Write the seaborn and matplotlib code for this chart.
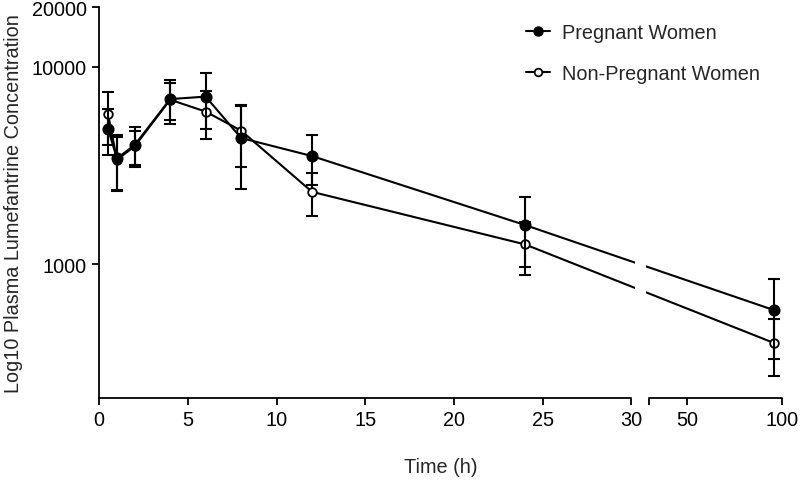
import numpy as np
import pandas as pd
import matplotlib
matplotlib.use("Agg")
import matplotlib.pyplot as plt
import matplotlib.transforms as mtransforms
from matplotlib.patches import Rectangle
import seaborn as sns

# Datos (media ± DE)
time_h = [0.5, 1, 2, 4, 6, 8, 12, 24, 96]
preg_mean = [4830, 3430, 4010, 6850, 7050, 4350, 3525, 1578, 584]
preg_sd = [1280, 1080, 920, 1740, 2240, 1950, 995, 610, 252]
nonpreg_mean = [5740, 3380, 3950, 6800, 5920, 4740, 2322, 1259, 398]
nonpreg_sd = [1720, 1000, 780, 1450, 1640, 1650, 563, 378, 128]
groups = ["Pregnant Women", "Non-Pregnant Women"]

x_ticks = [0, 5, 10, 15, 20, 25, 30, 30.0001, 50, 100]
x_labels = ["0", "5", "10", "15", "20", "25", "30", "", "50", "100"]
y_ticks = [1000, 10000, 20000]

# Eje x partido: 0-30 lineal, hueco, 30-100 comprimido
BREAK = 30.0
GAP = 1.0
SLOPE = 0.107


def fwd(x):
    x = np.asarray(x, dtype=float)
    return np.where(x <= BREAK, x, BREAK + GAP + (x - BREAK) * SLOPE)


def inv(u):
    u = np.asarray(u, dtype=float)
    return np.where(u <= BREAK, u,
                    np.where(u < BREAK + GAP, BREAK, BREAK + (u - BREAK - GAP) / SLOPE))


df = pd.concat([
    pd.DataFrame({"time": time_h, "conc": preg_mean, "sd": preg_sd, "group": groups[0]}),
    pd.DataFrame({"time": time_h, "conc": nonpreg_mean, "sd": nonpreg_sd, "group": groups[1]}),
])

sns.set_style("ticks")
plt.rcParams["font.family"] = ["Liberation Sans", "DejaVu Sans"]
FS = 14.3

fig = plt.figure(figsize=(8, 4.81), dpi=100)
ax = fig.add_axes([0.124, 0.1705, 0.8535, 0.8125])
ax.set_xscale("function", functions=(fwd, inv))
ax.set_yscale("log")

# primero las no embarazadas, las embarazadas (relleno) encima
face = {groups[0]: "black", groups[1]: "white"}
z = {groups[0]: 3, groups[1]: 2}
for g in [groups[1], groups[0]]:
    d = df[df["group"] == g]
    ax.errorbar(d["time"], d["conc"], yerr=d["sd"], fmt="none", ecolor="black",
                elinewidth=1.5, capsize=4.5, capthick=1.5, zorder=z[g])
    sns.lineplot(data=d, x="time", y="conc", ax=ax, color="black", lw=1.5,
                 marker="o", markersize=7.4 if g == groups[0] else 6.2,
                 markerfacecolor=face[g], markeredgecolor="black",
                 markeredgewidth=1.3, zorder=z[g] + 0.5, legend=False)

ax.set_xlim(0, 100)
ax.set_ylim(210, 20000)
ax.set_xticks(x_ticks)
ax.set_xticklabels(x_labels)
ax.set_yticks(y_ticks)
ax.set_yticklabels([str(t) for t in y_ticks])
ax.yaxis.set_minor_locator(matplotlib.ticker.NullLocator())
ax.xaxis.set_minor_locator(matplotlib.ticker.NullLocator())

ax.tick_params(direction="out", length=5, width=1.3, colors="black", labelsize=FS, pad=4)
for s in ["top", "right", "bottom"]:
    ax.spines[s].set_visible(False)
ax.spines["left"].set_linewidth(1.3)
ax.spines["left"].set_color("black")

# eje inferior en dos tramos
blend = mtransforms.blended_transform_factory(ax.transData, ax.transAxes)
ax.plot([0, 30], [0, 0], color="black", lw=1.3, transform=blend, clip_on=False, zorder=5)
ax.plot([30.0001, 100], [0, 0], color="black", lw=1.3, transform=blend, clip_on=False, zorder=5)

# hueco blanco en las curvas sobre la rotura
total = float(fwd(100))
ax.add_patch(Rectangle((30.2 / total, 0.01), 0.62 / total, 0.98, transform=ax.transAxes,
                       facecolor="white", edgecolor="none", zorder=4))

ax.set_xlabel("Time (h)", fontsize=FS, labelpad=20)
ax.set_ylabel("Log10 Plasma Lumefantrine Concentration", fontsize=FS, labelpad=6)

handles = [
    plt.Line2D([], [], color="black", lw=1.5, marker="o", markersize=6.5,
               markerfacecolor="black", markeredgecolor="black"),
    plt.Line2D([], [], color="black", lw=1.5, marker="o", markersize=5.5,
               markerfacecolor="white", markeredgecolor="black", markeredgewidth=1.3),
]
ax.legend(handles, groups, loc="upper left", bbox_to_anchor=(0.645, 0.971),
          bbox_transform=fig.transFigure, frameon=False, fontsize=FS,
          handlelength=1.2, labelspacing=1.1, handletextpad=0.6, borderpad=0)

fig.savefig("out.png", dpi=100)
